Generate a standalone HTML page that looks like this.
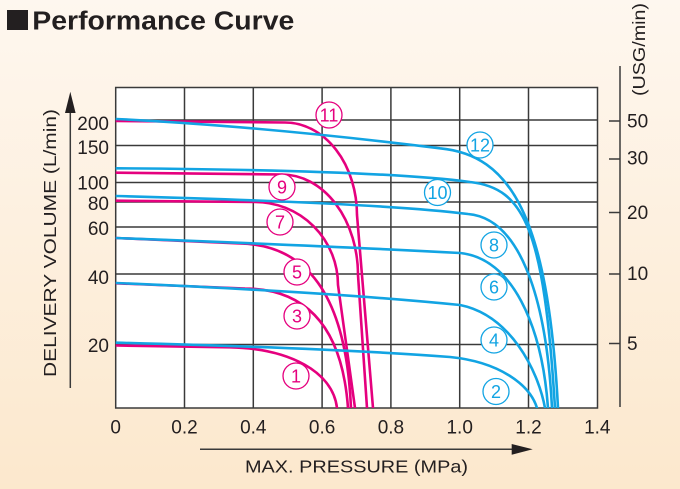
<!DOCTYPE html>
<html>
<head>
<meta charset="utf-8">
<style>
html,body{margin:0;padding:0;width:680px;height:489px;overflow:hidden;background:#fdf1e0}
svg{display:block}
</style>
</head>
<body>
<svg width="680" height="489" viewBox="0 0 680 489" xmlns="http://www.w3.org/2000/svg" font-family="'Liberation Sans', Arial, sans-serif">
<defs>
<linearGradient id="bg" x1="0" y1="0" x2="0" y2="1">
<stop offset="0" stop-color="#fef7ef"/>
<stop offset="1" stop-color="#fce8cd"/>
</linearGradient>
<clipPath id="c"><rect x="115.7" y="87.5" width="481.8" height="320.5"/></clipPath>
</defs>
<rect width="680" height="489" fill="url(#bg)"/>

<!-- Title -->
<rect x="7" y="10" width="21" height="20" fill="#231f20"/>
<text x="32.3" y="29.5" font-size="25.5" font-weight="bold" fill="#231f20" textLength="262" lengthAdjust="spacingAndGlyphs">Performance Curve</text>

<!-- Plot area -->
<rect x="115.7" y="87.5" width="481.8" height="320.5" fill="#ffffff"/>
<g stroke="#3a3a3a" stroke-width="1.5" fill="none">
<path d="M184.5,87.5V408M253.3,87.5V408M322.1,87.5V408M390.9,87.5V408M459.7,87.5V408M528.5,87.5V408"/>
<path d="M115.7,120H597.5M115.7,145.5H597.5M115.7,182.5H597.5M115.7,202H597.5M115.7,227H597.5M115.7,274H597.5M115.7,344.5H597.5"/>
<rect x="115.7" y="87.5" width="481.8" height="320.5"/>
</g>

<!-- Curves -->
<g clip-path="url(#c)" fill="none" stroke-width="2.6" stroke-linecap="round" stroke-linejoin="round">
<g stroke="#e5007e">
<path d="M116,121 L285,122.5 A72,92.5 0 0 1 357,215 L373,408"/>
<path d="M116,172.7 L282,174.5 A76,100.5 0 0 1 358,275 L367,408"/>
<path d="M116,200.7 L255,202 A83,83 0 0 1 338,285 L355,408"/>
<path d="M116,238 L240,243.5 C305,245 346,292 351,408"/>
<path d="M116,283.3 L245,288.5 C305,289 342,325 348,408"/>
<path d="M116,345.5 L230,347.3 C290,348.5 333,372 337,408"/>
</g>
<g stroke="#12a4e3">
<path d="M116,119 Q260,126 440,148.3 C510,155 548,215 558,408"/>
<path d="M116,168.3 Q380,170 470,182 C525,188 544,230 555,408"/>
<path d="M116,196 Q380,203 468,214 C517,218 546,290 552,408"/>
<path d="M116,238 Q330,246 460,253 C512,258 542,325 548,408"/>
<path d="M116,283 Q330,292 460,305 C510,315 538,370 545,408"/>
<path d="M116,342.7 Q330,348 450,357 C500,362 530,385 537,408"/>
</g>
</g>

<!-- Circled labels -->
<g font-size="18" text-anchor="middle" stroke-width="1.3">
<g fill="#ffffff" stroke="#e5007e">
<circle cx="329" cy="115" r="13"/>
<circle cx="282" cy="187" r="13"/>
<circle cx="280" cy="222" r="13"/>
<circle cx="297" cy="272" r="13"/>
<circle cx="297" cy="316" r="13"/>
<circle cx="296" cy="376" r="13"/>
</g>
<g fill="#e5007e" stroke="none">
<text x="329" y="121.4">11</text>
<text x="282" y="193.4">9</text>
<text x="280" y="228.4">7</text>
<text x="297" y="278.4">5</text>
<text x="297" y="322.4">3</text>
<text x="296" y="382.4">1</text>
</g>
<g fill="#ffffff" stroke="#12a4e3">
<circle cx="480" cy="145" r="13"/>
<circle cx="437.5" cy="192.5" r="13"/>
<circle cx="494" cy="245" r="13"/>
<circle cx="494" cy="287" r="13"/>
<circle cx="494" cy="340" r="13"/>
<circle cx="496" cy="391.5" r="13"/>
</g>
<g fill="#12a4e3" stroke="none">
<text x="480" y="151.4">12</text>
<text x="437.5" y="198.9">10</text>
<text x="494" y="251.4">8</text>
<text x="494" y="293.4">6</text>
<text x="494" y="346.4">4</text>
<text x="496" y="397.9">2</text>
</g>
</g>

<!-- Left axis -->
<line x1="70.3" y1="110" x2="70.3" y2="388" stroke="#3a3a3a" stroke-width="1.5"/>
<polygon points="70.3,91.7 65,113 75.6,113" fill="#231f20"/>
<g font-size="19" fill="#231f20" text-anchor="end">
<text x="109" y="130">200</text>
<text x="109" y="154">150</text>
<text x="109" y="189.3">100</text>
<text x="109" y="210">80</text>
<text x="109" y="235">60</text>
<text x="109" y="284">40</text>
<text x="109" y="352">20</text>
</g>
<text transform="translate(56,243) rotate(-90)" text-anchor="middle" font-size="17.7" fill="#231f20" textLength="268" lengthAdjust="spacingAndGlyphs">DELIVERY VOLUME (L/min)</text>

<!-- Right axis -->
<line x1="620" y1="66" x2="620" y2="407" stroke="#3a3a3a" stroke-width="1.5"/>
<g stroke="#3a3a3a" stroke-width="1.5">
<line x1="609" y1="121" x2="620" y2="121"/>
<line x1="609" y1="159" x2="620" y2="159"/>
<line x1="609" y1="212.5" x2="620" y2="212.5"/>
<line x1="609" y1="274" x2="620" y2="274"/>
<line x1="609" y1="343.5" x2="620" y2="343.5"/>
</g>
<g font-size="19" fill="#231f20">
<text x="627" y="127.6">50</text>
<text x="627" y="164.6">30</text>
<text x="627" y="218.8">20</text>
<text x="627" y="280.2">10</text>
<text x="627" y="350">5</text>
</g>
<text transform="translate(645,49.5) rotate(-90)" text-anchor="middle" font-size="17.7" fill="#231f20" textLength="93" lengthAdjust="spacingAndGlyphs">(USG/min)</text>

<!-- X axis labels -->
<g font-size="19" fill="#231f20" text-anchor="middle">
<text x="115.7" y="433.3">0</text>
<text x="184.5" y="433.3">0.2</text>
<text x="253.3" y="433.3">0.4</text>
<text x="322.1" y="433.3">0.6</text>
<text x="390.9" y="433.3">0.8</text>
<text x="459.7" y="433.3">1.0</text>
<text x="528.5" y="433.3">1.2</text>
<text x="597.3" y="433.3">1.4</text>
</g>
<line x1="200" y1="449.3" x2="515" y2="449.3" stroke="#3a3a3a" stroke-width="1.5"/>
<polygon points="532.7,449.3 511.7,444 511.7,454.7" fill="#231f20"/>
<text x="245" y="472.3" font-size="17.7" fill="#231f20" textLength="223" lengthAdjust="spacingAndGlyphs">MAX. PRESSURE (MPa)</text>
</svg>
</body>
</html>
